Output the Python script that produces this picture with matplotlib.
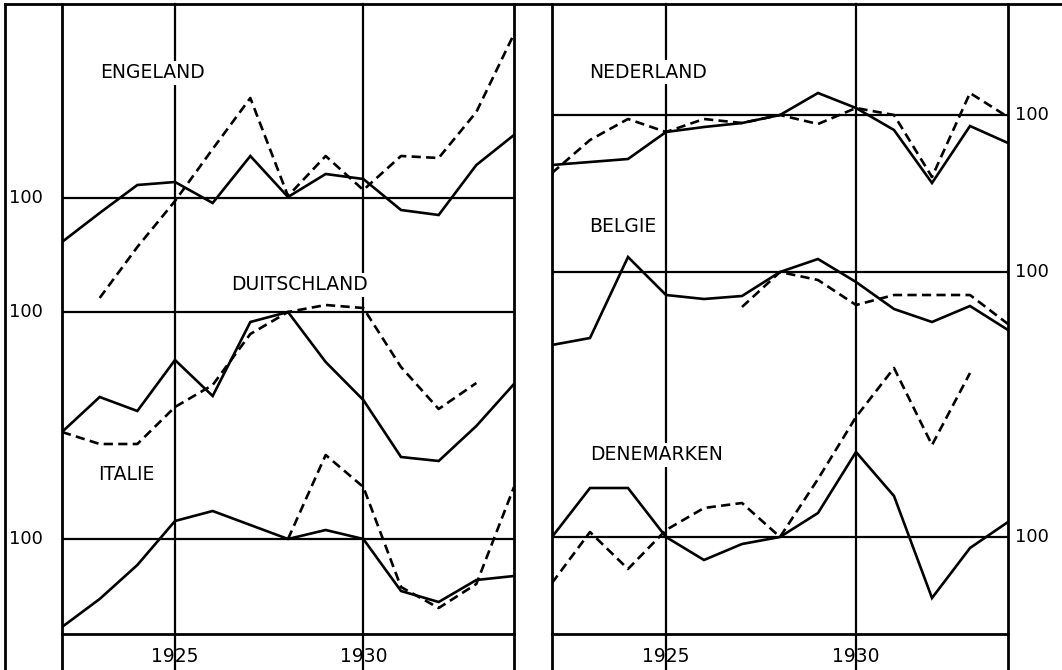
import matplotlib
matplotlib.use("Agg")
import matplotlib.pyplot as plt
from matplotlib.lines import Line2D

# jaren op de x-as
jaren = list(range(1922, 1935))

# indexcijfers (100 = basisjaar)
engeland_vol = [78, 92.5, 106.5, 108, 97.5, 121, 100.5, 112, 109.5, 94, 91.5, 116.5, 131.5]
engeland_stip_jaren = list(range(1923, 1935))
engeland_stip = [50, 75.5, 98.5, 124.5, 150, 101, 121, 104, 121, 120, 143, 182]

duitschland_vol = [40, 57.5, 50.5, 76, 58, 95, 100, 75, 56, 27.5, 25.5, 43, 64]
duitschland_stip_jaren = list(range(1922, 1934))
duitschland_stip = [40, 34, 34, 52.5, 63.5, 89, 100, 103.5, 102, 72.5, 51.5, 64.5]

italie_vol = [56, 70, 87, 109, 114, 107, 100, 104.5, 100, 74, 68.5, 79.5, 81.5]
italie_stip_jaren = list(range(1928, 1935))
italie_stip = [100, 142, 126, 76, 65.5, 77.5, 126]

nederland_vol = [75, 76.5, 78, 91.5, 94, 96, 100, 111, 103.5, 92.5, 66, 94.5, 86]
nederland_stip = [71, 87.5, 98, 91.5, 98, 96, 100, 95.5, 103.5, 100, 69, 111, 99]

belgie_vol = [63.5, 67, 107.5, 88.5, 86.5, 88, 100, 106.5, 95, 81.5, 75, 83, 71]
belgie_stip_jaren = list(range(1927, 1935))
belgie_stip = [82.5, 100, 96, 83.5, 88.5, 88.5, 88.5, 74]

denemarken_vol = [100, 124.5, 124.5, 100, 88.5, 96.5, 100, 112, 142.5, 120.5, 69.5, 94.5, 107.5]
denemarken_stip_jaren = list(range(1922, 1934))
denemarken_stip = [77, 102.5, 84, 103.5, 114.5, 117, 100, 129, 160, 184.5, 146, 182]

plt.rcParams['font.family'] = ['DejaVu Sans']

W, H = 1062, 670
fig = plt.figure(figsize=(W / 100, H / 100), dpi=100)

lw_kader = 2.0
lw_lijn = 1.9
streep = (3.5, 2.0)


def paneel(x0, x1):
    ax = fig.add_axes([x0 / W, (H - 634) / H, (x1 - x0) / W, 630 / H])
    ax.set_xlim(1922, 1934)
    ax.set_ylim(0, 315)
    for s in ax.spines.values():
        s.set_visible(False)
    # kaderlijnen, doorgetrokken tot de onderrand
    onder = -36 / 630
    for xa in (0, 1):
        ax.plot([xa, xa], [onder, 1], transform=ax.transAxes, color='black',
                lw=lw_kader, clip_on=False, zorder=1)
    ax.plot([0, 1], [0, 0], transform=ax.transAxes, color='black', lw=lw_kader,
            clip_on=False, zorder=1)
    for jr in (1925, 1930):
        ax.axvline(jr, ymin=onder, ymax=1, color='black', lw=1.6, clip_on=False, zorder=1)
    ax.set_xticks([1925, 1930])
    ax.set_xticklabels(['1925', '1930'], fontsize=13.5)
    ax.tick_params(axis='x', length=0, pad=9)
    ax.set_yticks([])
    return ax


def land(ax, naam, basis, vol, stip_jaren, stip, tx, ty, label_kant):
    ax.axhline(basis, color='black', lw=1.6, zorder=1)
    ax.plot(jaren, [basis + v - 100 for v in vol], color='black', lw=lw_lijn,
            solid_joinstyle='miter', zorder=2)
    ax.plot(stip_jaren, [basis + v - 100 for v in stip], color='black', lw=lw_lijn,
            dashes=streep, zorder=2)
    ax.text(tx, ty, naam, transform=ax.transAxes, fontsize=13.5, va='center',
            ha='left', zorder=3,
            bbox=dict(facecolor='white', edgecolor='none', pad=1.5))
    if label_kant == 'links':
        ax.annotate('100', xy=(0, basis), xycoords=('axes fraction', 'data'),
                    xytext=(-53, 0), textcoords='offset pixels', fontsize=13,
                    va='center', ha='left')
    else:
        ax.annotate('100', xy=(1, basis), xycoords=('axes fraction', 'data'),
                    xytext=(7, 0), textcoords='offset pixels', fontsize=13,
                    va='center', ha='left')


links = paneel(62, 514)
rechts = paneel(552, 1008)


def fx(px, x0, x1):
    return (px - x0) / (x1 - x0)


def fy(py):
    return (634 - py) / 630


land(links, 'ENGELAND', 218, engeland_vol, engeland_stip_jaren, engeland_stip,
     fx(100, 62, 514), fy(73), 'links')
land(links, 'DUITSCHLAND', 161, duitschland_vol, duitschland_stip_jaren, duitschland_stip,
     fx(231, 62, 514), fy(285), 'links')
land(links, 'ITALIE', 47.5, italie_vol, italie_stip_jaren, italie_stip,
     fx(98, 62, 514), fy(475), 'links')

land(rechts, 'NEDERLAND', 259.5, nederland_vol, jaren, nederland_stip,
     fx(589, 552, 1008), fy(72), 'rechts')
land(rechts, 'BELGIE', 181, belgie_vol, belgie_stip_jaren, belgie_stip,
     fx(589, 552, 1008), fy(226), 'rechts')
land(rechts, 'DENEMARKEN', 48.5, denemarken_vol, denemarken_stip_jaren, denemarken_stip,
     fx(590, 552, 1008), fy(455), 'rechts')

# buitenkader: bovenlijn en linkerlijn
fig.add_artist(Line2D([5 / W, 1], [1 - 4 / H, 1 - 4 / H], color='black', lw=lw_kader))
fig.add_artist(Line2D([5 / W, 5 / W], [0, 1 - 4 / H], color='black', lw=lw_kader))

fig.savefig('out.png', dpi=100, facecolor='white')
